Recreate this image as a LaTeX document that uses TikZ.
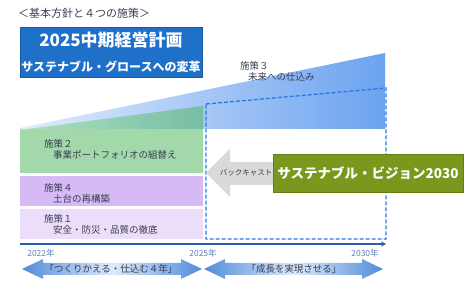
\documentclass[tikz,border=0pt]{standalone}
\usepackage{fontspec}
\setmainfont{Noto Sans CJK JP}
\usetikzlibrary{arrows.meta}

\definecolor{planblue}{RGB}{30,112,200}
\definecolor{wedgelight}{RGB}{226,236,252}
\definecolor{wedgedark}{RGB}{108,163,240}
\definecolor{tealdark}{RGB}{118,190,165}
\definecolor{teallight}{RGB}{175,225,190}
\definecolor{greenbox}{RGB}{163,217,170}
\definecolor{purplebox}{RGB}{214,186,246}
\definecolor{lilacbox}{RGB}{236,221,251}
\definecolor{dashblue}{RGB}{40,120,230}
\definecolor{axisblue}{RGB}{40,92,172}
\definecolor{yearblue}{RGB}{95,128,185}
\definecolor{olive}{RGB}{122,152,30}
\definecolor{olivedark}{RGB}{100,128,20}
\definecolor{castgray}{RGB}{217,217,217}
\definecolor{textgray}{RGB}{55,62,80}
\definecolor{spandark}{RGB}{80,140,218}
\definecolor{spanlight}{RGB}{222,234,250}

\pgfdeclarehorizontalshading{spanshade}{100bp}{color(0bp)=(spandark); color(25bp)=(spandark); color(50bp)=(spanlight); color(75bp)=(spandark); color(100bp)=(spandark)}

\begin{document}
\begin{tikzpicture}[x=1pt,y=-1pt,
    measure/.style={font=\fontsize{9.5}{11}\selectfont, text=textgray, align=left, anchor=west, inner sep=0pt},
    yearlabel/.style={font=\fontsize{8.5}{10}\selectfont, text=yearblue, inner sep=0pt},
    spanlabel/.style={font=\fontsize{9.5}{11}\selectfont, text=textgray, inner sep=0pt}]
\useasboundingbox (0,0) rectangle (467,291);

\node[font=\fontsize{11}{13}\selectfont, text=textgray, anchor=west, inner sep=0pt] (title) at (18,13) {＜基本方針と４つの施策＞};

% plan box
\node[fill=planblue, draw=planblue!80!black, line width=0.6pt, minimum width=182, minimum height=50, inner sep=0pt] (plan) at (111,52) {};
\node[font=\bfseries\fontsize{17}{19}\selectfont, text=white, inner sep=0pt] (planA) at (111,40) {2025中期経営計画};
\node[font=\bfseries\fontsize{12}{14}\selectfont, text=white, inner sep=0pt] (planB) at (111,67) {サステナブル・グロースへの変革};

% wedge and boxes
\coordinate (W1) at (20,128);
\coordinate (W2) at (385,53);
\coordinate (W3) at (385,129);
\coordinate (W4) at (20,129);
\coordinate (G1) at (20,130);
\coordinate (G2) at (203,106);
\coordinate (G3) at (203,173);
\coordinate (G4) at (20,173);
\coordinate (G5) at (203,129);

\fill[greenbox] (G1)--(G2)--(G3)--(G4)--cycle;
\shade[left color=wedgelight, right color=wedgedark] (W1)--(W2)--(W3)--(W4)--cycle;
\shade[left color=teallight, right color=tealdark] (G1)--(G2)--(G5)--(W4)--cycle;
\fill[purplebox] (20,176) rectangle (203,206);
\fill[lilacbox] (20,209) rectangle (203,239);

\node[measure] (m3) at (240,71) {施策３\\\hspace{8pt}未来への仕込み};
\node[measure] (m2) at (44,149) {施策２\\\hspace{9pt}事業ポートフォリオの組替え};
\node[measure] (m4) at (44,193) {施策４\\\hspace{9pt}土台の再構築};
\node[measure] (m1) at (44,224) {施策１\\\hspace{9pt}安全・防災・品質の徹底};

% 2025-2030 frame
\coordinate (D1) at (206,104);
\coordinate (D2) at (386,88);
\coordinate (D3) at (386,239);
\coordinate (D4) at (206,239);
\draw[dashblue, line width=1.3pt, dash pattern=on 4pt off 2pt] (D1)--(D2)--(D3)--(D4)--cycle;

% backcast
\fill[castgray] (206,173)--(230,149)--(230,162)--(280,162)--(280,185)--(230,185)--(230,197)--cycle;
\node[font=\fontsize{7.5}{9}\selectfont, text=textgray, inner sep=0pt] (cast) at (246,173) {バックキャスト};
\node[fill=olive, draw=olivedark, line width=0.6pt, minimum width=190, minimum height=38, inner sep=0pt,
      font=\bfseries\fontsize{13.5}{15}\selectfont, text=white] (vision) at (368,173) {サステナブル・ビジョン2030};

% time axis
\coordinate (A0) at (20,244);
\coordinate (A1) at (386,244);
\draw[axisblue, line width=1.6pt, -{Stealth[length=5pt,width=5pt]}] (A0)--(A1);
\node[yearlabel] (y22) at (41,253) {2022年};
\node[yearlabel] (y25) at (203,253) {2025年};
\node[yearlabel] (y30) at (365,253) {2030年};

% spans
\shade[shading=spanshade] (22,269)--(43,259)--(43,263)--(181,263)--(181,259)--(202,269)--(181,279)--(181,275)--(43,275)--(43,279)--cycle;
\shade[shading=spanshade] (204,269)--(225,259)--(225,263)--(362,263)--(362,259)--(383,269)--(362,279)--(362,275)--(225,275)--(225,279)--cycle;
\node[spanlabel] (s1) at (111,269) {「つくりかえる・仕込む４年」};
\node[spanlabel] (s2) at (294,269) {「成長を実現させる」};
\end{tikzpicture}
\end{document}
